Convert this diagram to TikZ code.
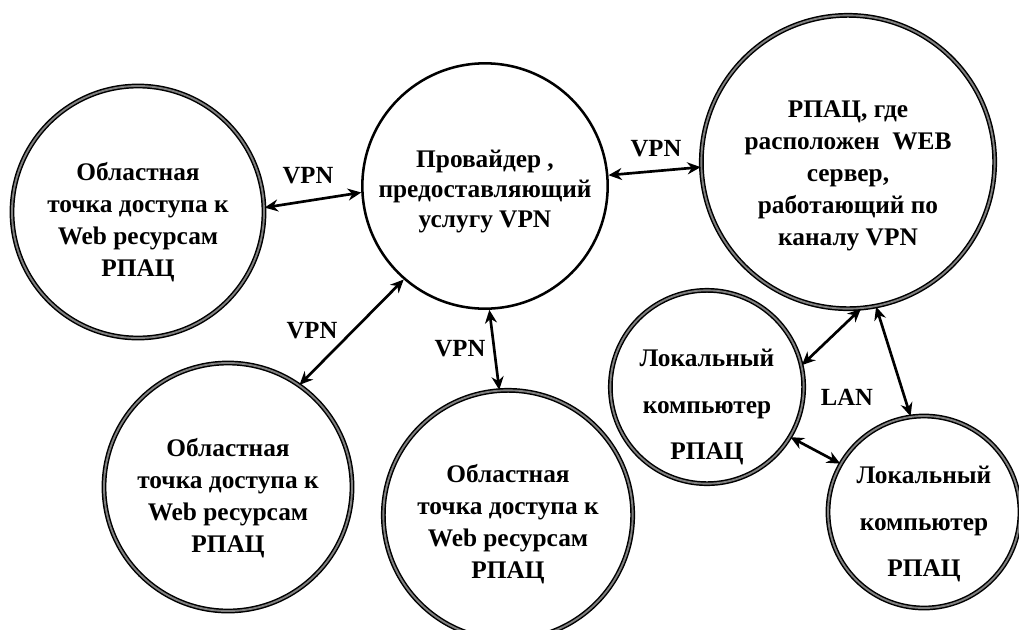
\documentclass[tikz,border=0pt]{standalone}
\usepackage{fontspec}
\setmainfont{Liberation Serif}[BoldFont={Liberation Serif Bold}]
\newfontfamily\lsb{Liberation Serif Bold}
\usetikzlibrary{arrows.meta}
\tikzset{
  dbl/.style={circle, draw=black, line width=1.1pt, double=black!50, double distance=1.4pt, inner sep=0pt},
  sgl/.style={circle, draw=black, line width=1.9pt, inner sep=0pt},
  txt/.style={align=center, inner sep=0pt, font=\lsb\fontsize{19}{24}\selectfont},
  txtwide/.style={align=center, inner sep=0pt, font=\lsb\fontsize{19}{35}\selectfont},
  conn/.style={line width=2pt, {Stealth[length=10pt,width=9pt]}-{Stealth[length=10pt,width=9pt]}},
  lbl/.style={font=\lsb\fontsize{18.5}{20}\selectfont, inner sep=0pt}
}
\begin{document}
\begin{tikzpicture}[x=0.75pt,y=-0.75pt]
\useasboundingbox (0,0) rectangle (1019,629);
\node[dbl, minimum size=189pt] (L1) at (138,212) {};
\node[sgl, minimum size=184pt] (P) at (485,186) {};
\node[dbl, minimum size=220pt] (W) at (848,162) {};
\node[dbl, minimum size=145pt] (C1) at (707,387) {};
\node[dbl, minimum size=144pt] (C2) at (924,512) {};
\node[dbl, minimum size=186pt] (L2) at (228,487) {};
\node[dbl, minimum size=187pt] (L3) at (508,515) {};

\node[txt] (L1t) at ([yshift=-7.5pt]L1.center) {Областная\\точка доступа к\\Web ресурсам\\РПАЦ};
\node[txt, font=\lsb\fontsize{19}{22.5}\selectfont] (Pt) at ([yshift=-4pt]P.center) {Провайдер ,\\предоставляющий\\услугу VPN};
\node[txt] (Wt) at ([yshift=-10.5pt]W.center) {РПАЦ, где\\расположен \ WEB\\сервер,\\работающий по\\каналу VPN};
\node[txtwide] (C1t) at ([yshift=-15pt]C1.center) {Локальный\\компьютер\\РПАЦ};
\node[txtwide] (C2t) at ([yshift=-9pt]C2.center) {Локальный\\компьютер\\РПАЦ};
\node[txt] (L2t) at ([yshift=-8pt]L2.center) {Областная\\точка доступа к\\Web ресурсам\\РПАЦ};
\node[txt] (L3t) at ([yshift=-7pt]L3.center) {Областная\\точка доступа к\\Web ресурсам\\РПАЦ};

\draw[conn] (L1.2) -- (P.183);
\draw[conn] (P.229) -- (L2.55);
\draw[conn] (P.272) -- (L3.94);
\draw[conn] (P.5) -- (W.182);
\draw[conn] (W.275) -- (C1.13);
\draw[conn] (W.281) -- (C2.98);
\draw[conn] (C1.329) -- (C2.150);

\node[lbl] (v1) at (308,176) {VPN};
\node[lbl] (v2) at (312,331) {VPN};
\node[lbl] (v3) at (460,349) {VPN};
\node[lbl] (v4) at (656,149) {VPN};
\node[lbl] (lan) at (847,397) {LAN};
\end{tikzpicture}
\end{document}
